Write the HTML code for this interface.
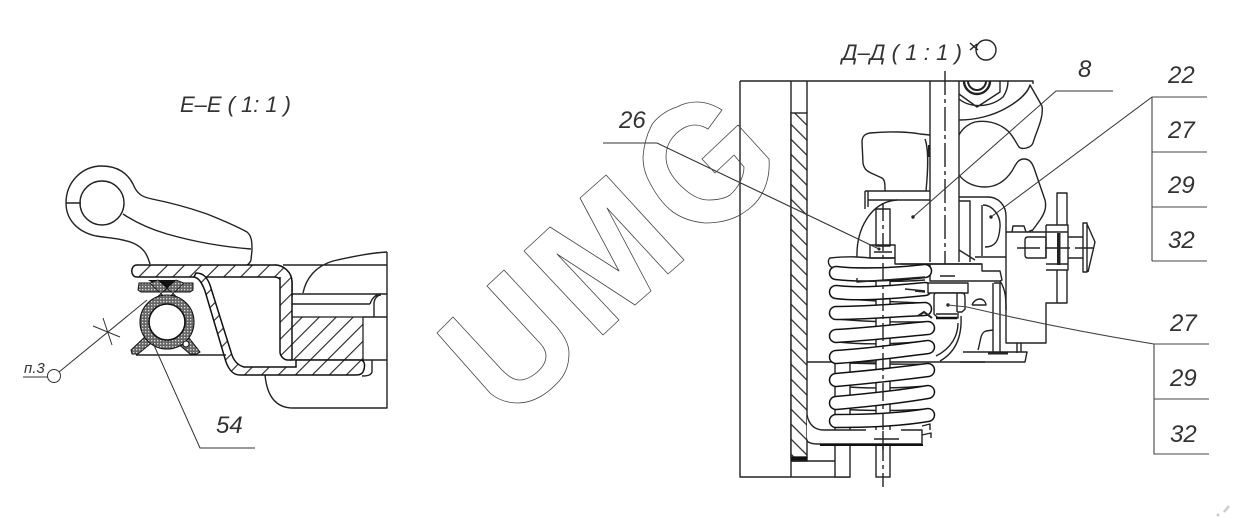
<!DOCTYPE html>
<html><head><meta charset="utf-8"><style>
html,body{margin:0;padding:0;background:#fff;width:1233px;height:518px;overflow:hidden}
svg{display:block}
text{font-family:"Liberation Sans",sans-serif;font-style:italic;fill:#333}
.l{fill:none;stroke:#222;stroke-width:1.4;stroke-linejoin:round}
.t{fill:none;stroke:#333;stroke-width:1}
.w{fill:#fff;stroke:#222;stroke-width:1.4;stroke-linejoin:round}
.cb{fill:none;stroke:#111;stroke-width:14.5;stroke-linecap:round}
.cw{fill:none;stroke:#fff;stroke-width:11.5;stroke-linecap:round}
</style></head><body>
<svg width="1233" height="518" viewBox="0 0 1233 518" xmlns="http://www.w3.org/2000/svg">
<defs>
<pattern id="hb" width="10.6" height="10.6" patternUnits="userSpaceOnUse" patternTransform="rotate(-45)"><rect width="10.6" height="10.6" fill="#fff"/><line x1="5" y1="0" x2="5" y2="10.6" stroke="#222" stroke-width="1.2"/></pattern>
<pattern id="hf" width="12" height="12" patternUnits="userSpaceOnUse" patternTransform="rotate(45)"><rect width="12" height="12" fill="#fff"/><line x1="6" y1="0" x2="6" y2="12" stroke="#222" stroke-width="1.1"/></pattern>
<pattern id="st" width="3" height="3" patternUnits="userSpaceOnUse"><rect width="3" height="3" fill="#666"/><rect x="1" y="1" width="1.3" height="1.3" fill="#ddd"/></pattern>
</defs>

<!-- LEFT VIEW -->
<text x="180" y="112" font-size="22" textLength="111">Е–Е ( 1: 1 )</text>
<path class="w" d="M150,264C147,254 144,248 133,243C120,238 108,238 96,236C78,232 66,220 66,203C66,182 82,166 102,166C118,166 128,174 133,184C137,194 142,197 152,199C172,203 190,208 207,214C222,220 236,226 247,232C252,236 252,243 252,250L251,260C250,263 249,264 247,265"/>
<circle class="w" cx="102" cy="203" r="22"/>
<path class="l" d="M66,203H81M123,214C135,222 150,229 167,234C195,242 225,247 251,249"/>
<!-- right housing -->
<path class="l" d="M387,252V408H293C276,408 267,396 265,375M303,293C306,278 316,266 333,261C350,257 370,253 387,252M283,265H387M292,294H387M288,304H370M363,317H387M363,360H387"/>
<path class="l" d="M370,304C372,298 376,294 381,294M374,317V304C374,298 378,295 381,295M372,360V372C371,375 368,376 362,376"/>
<!-- hatched block -->
<rect x="290" y="317" width="73" height="43" fill="url(#hf)" stroke="#222" stroke-width="1.3"/>
<!-- top plate and sheet -->
<path d="M137,265H275C283,265 292,272 292,282V296H281V283C281,279 278,277 274,277H196L137,277C130,277 130,265 137,265Z" fill="url(#hf)" stroke="#111" stroke-width="1.5"/>
<path d="M280,277V352C280,355 283,360 288,360H292V282C292,272 283,265 275,265" fill="url(#hf)" stroke="#111" stroke-width="1.5"/>
<path d="M196,273C203,273 207,277 210,285L231,352C233,360 237,365 244,367H296V360H360C366,360 365,368 363,372C361,375 358,375 355,375H240C233,375 229,370 226,362L205,291C202,283 199,278 194,277Z" fill="url(#hf)" stroke="#111" stroke-width="1.5"/>
<!-- seal -->
<path d="M136,355H226" class="l"/>
<path d="M139,283H193V290L190,292H141L138,290Z" fill="url(#st)" stroke="#111" stroke-width="1"/>
<path d="M148,280H178L165,291Z" fill="#111"/>
<path d="M150,283L172,304L178,298L158,280ZM184,283L162,304L156,298L176,280Z" fill="url(#st)" stroke="#111" stroke-width=".8"/>
<path d="M148,334L131,350L132,354L138,354L155,340ZM186,334L200,352L197,354H190L176,342Z" fill="url(#st)" stroke="#111" stroke-width="1"/>
<circle cx="167" cy="322" r="22.5" fill="none" stroke="url(#st)" stroke-width="9"/>
<circle cx="167" cy="322" r="27" fill="none" stroke="#111" stroke-width="1.1"/>
<circle cx="167" cy="322" r="18" fill="#fff" stroke="#111" stroke-width="1.6"/>
<circle cx="186" cy="344" r="3" fill="#fff" stroke="#111"/>
<!-- left leaders -->
<path class="t" d="M147,300L59,372M93,326L120,337M103,318L112,345M23,377H48M153,343L200,448H255"/>
<circle class="t" cx="54" cy="376" r="6.5"/>
<text x="24" y="373" font-size="15">п.3</text>
<text x="216" y="433" font-size="24">54</text>

<!-- RIGHT VIEW -->
<text x="842" y="60" font-size="22" textLength="120">Д–Д ( 1 : 1 )</text>
<circle class="l" cx="986" cy="50" r="10"/>
<path class="l" d="M970,43L978,50M970,50L977,44"/>
<path class="l" d="M740,81H1033V84M740,81V477H850M791,81V477M807,81V113M807,457V461H791M807,362H985"/>
<rect x="791" y="113" width="16" height="344" fill="url(#hb)" stroke="#222" stroke-width="1.4"/>
<rect x="791" y="457" width="16" height="4" fill="#111"/>
<!-- sprocket / nut -->
<path class="l" d="M959,120C975,120 993,116 1008,107C1020,100 1028,92 1030,85L1042,106C1044,118 1036,132 1033,143C1031,148 1022,150 1019,147C1016,143 1014,137 1008,131C998,122 985,120 975,122C968,124 962,129 959,135M959,175C965,183 975,187 985,187C998,187 1006,180 1012,171C1016,164 1018,159 1024,159C1030,159 1032,163 1034,168L1045,200C1047,208 1044,214 1040,220L1032,231"/>
<path class="l" d="M959,94L977,107L1000,92V81M959,99C970,108 990,108 1003,97C1007,91 1008,86 1008,81"/>
<path d="M964,81A13,13 0 0 0 990,81" fill="none" stroke="#222" stroke-width="2.4"/>
<path d="M968,81A9,9 0 0 0 986,81" fill="none" stroke="#222" stroke-width="2"/>
<!-- knob -->
<path class="l" d="M930,135L920,134C910,132 890,131 870,133C864,134 862,137 862,142L863,163C864,169 867,171 871,173L882,178C885,180 885,184 885,191M926,191C928,170 929,150 925,139"/>
<rect x="928" y="145" width="2.5" height="12" fill="#222"/>
<path class="l" d="M865,191H930M865,191V209M868,191V207M868,200H930"/>
<path class="l" d="M857,258C856,230 870,202 897,200"/>
<rect class="w" x="876" y="209" width="14" height="37"/>
<!-- back strand lines -->
<path class="l" d="M838,279C865,282 900,282 925,280M838,298C865,301 900,302 925,303M838,319C865,322 900,322 925,322M838,342C865,345 900,344 928,341M838,363C865,363 900,365 928,364M838,386C865,389 900,388 928,386M838,409C865,411 900,411 928,409"/>
<!-- tube & spindle -->
<rect x="835" y="362" width="15" height="115" fill="#fff" stroke="#222" stroke-width="1.4"/>
<path class="l" d="M791,461H835"/>
<rect x="876" y="262" width="14" height="215" fill="#fff" stroke="#222" stroke-width="1.4"/>
<!-- rod -->
<path class="l" d="M930,81V262M959,81V262"/>
<path class="l" stroke-dasharray="24 4 4 4" d="M945,71V272"/>
<!-- right bracket -->
<path class="l" d="M959,197H988C999,197 1006,206 1006,216V343H1046V303H1057M1006,232H1046V225M1046,225H1068V232H1046M1046,264H1068V270H1046M1057,225V193H1067V225M1057,270V303H1067V270M1046,232V258M1068,232V264"/>
<path class="l" d="M959,201H970V262M982,205V256M983,205C992,205 1001,215 1000,227C999,240 996,247 985,247M959,250L975,260M975,257H1006"/>
<path class="l" d="M1028,237H1046V258H1028C1025,258 1025,256 1025,254V241C1025,239 1025,237 1028,237ZM1068,237H1083V258H1068M1083,223H1087V272H1083ZM1087,224L1095,242L1088,272M1017,248H1040M1045,248H1070M1075,248H1093"/>
<rect x="1057" y="233" width="3.5" height="32" fill="#222"/>
<path class="l" d="M1012,232L1013,226H1024L1026,232M1032,230L1028,232"/>
<!-- plates near rod bottom -->
<path class="w" d="M830,258C850,256 860,257 870,258H895V264H982V271H1000L1002,280L1000,281H930V271H900V268H835C828,268 827,260 830,258Z"/>
<path class="l" d="M870,245H895V258H870ZM874,252H892M930,264V271M940,276H955M900,264H982"/>
<circle cx="879" cy="249" r="1.5" fill="#222"/>
<path class="l" d="M993,283V353M1000,281C1006,290 1006,300 1006,310M994,283H1000V352M963,352H1027L1025,362H960M978,350C981,340 980,333 986,331L993,330M972,305C975,297 985,297 986,305H972"/>
<rect x="988" y="352" width="20" height="2.5" fill="#222"/>
<path class="l" d="M1017,343V353M1021,343V352"/>
<!-- front coils -->
<g>
<path class="cb" d="M836,273C860,276 900,274 925,271"/><path class="cw" d="M836,273C860,276 900,274 925,271"/>
<path class="cb" d="M836,292C860,295 895,292 925,289"/><path class="cw" d="M836,292C860,295 895,292 925,289"/>
<path class="cb" d="M836,313C860,313 900,310 925,309"/><path class="cw" d="M836,313C860,313 900,310 925,309"/>
<path class="cb" d="M836,336C870,334 905,330 928,328"/><path class="cw" d="M836,336C870,334 905,330 928,328"/>
<path class="cb" d="M836,357C870,355 905,350 928,347"/><path class="cw" d="M836,357C870,355 905,350 928,347"/>
<path class="cb" d="M836,380C870,377 905,373 928,370"/><path class="cw" d="M836,380C870,377 905,373 928,370"/>
<path class="cb" d="M836,403C870,400 905,396 928,392"/><path class="cw" d="M836,403C870,400 905,396 928,392"/>
<path class="cb" d="M836,421C870,421 905,419 928,415"/><path class="cw" d="M836,421C870,421 905,419 928,415"/>
</g>
<!-- spindle centre line over coils -->
<path class="l" stroke-dasharray="18 4 4 4" d="M883,203V487"/>
<path class="l" d="M857,278V282L925,277"/>
<path d="M922,426L930,424V430M922,435L931,433V438" class="l"/>
<!-- bottom bent plate -->
<path d="M807,415C809,422 814,430 818,430H922V444H818C811,444 807,442 807,437Z" fill="#fff" stroke="none"/>
<path class="l" d="M807,415C809,425 815,430 824,430H866M901,430H922V444H818C811,444 807,442 807,440"/>
<path d="M820,445H923" stroke="#111" stroke-width="2"/>
<path class="l" d="M874,439H899M883,431V450"/>
<!-- pipe from nut -->
<path class="l" d="M961,316C962,336 956,352 940,361M958,323C958,335 952,348 936,356"/>
<!-- nut -->
<path class="w" d="M928,283H968V293H928Z"/>
<path class="w" d="M936,293H962C965,293 965,296 965,300V309L962,312H958V318H938L934,314V298C934,295 934,293 936,293Z"/>
<path class="l" d="M957,293V312M936,314H957"/>
<path d="M936,318H957" stroke="#111" stroke-width="2.5"/>
<path d="M918,316L924,312L932,318" fill="none" stroke="#222" stroke-width="2"/>
<path d="M915,291L925,292M905,289L925,291" fill="none" stroke="#222" stroke-width="1.6"/>
<!-- right leaders -->
<path class="t" d="M1113,91H1056L913,217"/>
<circle cx="913" cy="217" r="1.7" fill="#222"/>
<path class="t" d="M1152,97L991,217"/>
<circle cx="991" cy="217" r="1.7" fill="#222"/>
<path d="M1152,97V261M1152,97H1207M1152,152H1207M1152,207H1207M1152,261H1207" fill="none" stroke="#444" stroke-width="1.1"/>
<path d="M603,143H657L879,249" fill="none" stroke="#333" stroke-width="1.1"/>
<circle cx="948" cy="305" r="1.7" fill="#222"/>
<path d="M948,305L967,307C1010,317 1080,332 1154,344H1209M1154,344V454H1209M1154,399H1209" fill="none" stroke="#444" stroke-width="1.1"/>
<text x="619" y="128" font-size="24">26</text>
<text x="1078" y="77" font-size="24">8</text>
<text x="1168" y="83" font-size="24">22</text>
<text x="1168" y="138" font-size="24">27</text>
<text x="1168" y="193" font-size="24">29</text>
<text x="1168" y="248" font-size="24">32</text>
<text x="1170" y="331" font-size="24">27</text>
<text x="1170" y="386" font-size="24">29</text>
<text x="1170" y="442" font-size="24">32</text>

<!-- WATERMARK -->
<g fill="none" stroke="#444" stroke-width=".8" stroke-linejoin="round">
<path d="M437,333L453,317L502,370C510,378 515,380 520,380C530,380 546,368 546,356C546,350 542,345 537,340L487,286L504,270L555,325C564,335 569,344 569,353C569,364 566,373 560,380C548,394 533,403 518,403C508,403 498,400 490,393Z"/>
<path d="M524,251L550,227L619,271L580,198L606,175L684,260L668,274L607,208L651,291L635,305L557,254L619,320L603,335Z"/>
<path d="M722,110L708,129C703,126 699,125 695,125C686,125 679,130 673,137C668,143 666,150 666,157C666,167 672,177 680,185C690,195 699,200 708,200C716,200 724,199 730,195C738,188 744,177 744,167L734,155L715,173L702,159L738,125L769,159C770,173 767,186 760,197C755,205 748,210 740,215C729,221 717,223 705,223C693,222 683,219 673,212C661,203 653,190 647,177C644,170 643,164 643,157C644,144 647,133 653,123C659,116 667,110 677,107C684,103 690,102 697,102C706,102 714,105 722,110Z"/>
</g>
<path d="M1217,516L1219,514M1224,512L1229,506" stroke="#ccc" stroke-width="2.5"/>
</svg>
</body></html>
